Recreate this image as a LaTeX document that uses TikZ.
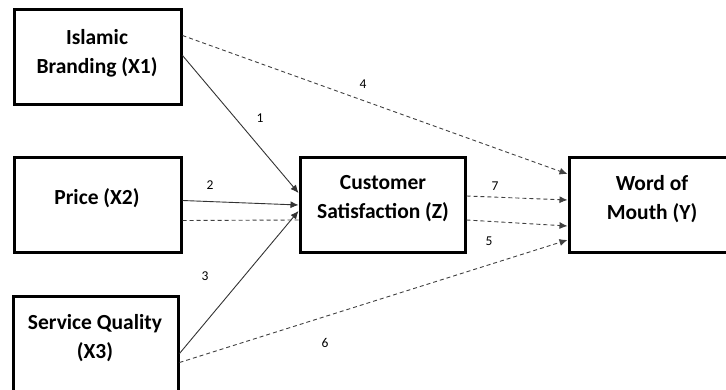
\documentclass[tikz,border=0pt]{standalone}
\usepackage{fontspec}
\setmainfont{Carlito}
\usetikzlibrary{arrows.meta,calc}
\tikzset{
  box/.style={draw=black, line width=3pt, minimum width=#1, minimum height=95pt, inner sep=0pt},
  lbl/.style={font=\fontsize{21.5}{29}\selectfont\bfseries, align=center, inner sep=0pt},
  num/.style={font=\fontsize{13.5}{15}\selectfont, inner sep=0pt},
  solidarr/.style={draw=black!80, line width=0.9pt, -{Latex[length=8pt,width=7pt]}},
  dasharr/.style={draw=black!75, line width=0.9pt, dash pattern=on 4pt off 3pt, -{Latex[length=8pt,width=7pt]}},
  dashln/.style={draw=black!75, line width=0.9pt, dash pattern=on 4pt off 3pt}
}
\begin{document}
\begin{tikzpicture}[x=1pt,y=-1pt]
\useasboundingbox (0,0) rectangle (726,390);
\clip (0,0) rectangle (726,390);
% boxes
\node[box=167pt] (x1) at (97.5,57.5) {};
\node[box=167pt] (x2) at (97.5,205.5) {};
\node[box=165pt, minimum height=96pt] (x3) at (95.5,345) {};
\node[box=165pt] (z) at (382.5,205) {};
\node[box=170pt] (y) at (654,205) {};
% texts
\node[lbl] (x1t) at (97,53) {Islamic\\Branding (X1)};
\node[lbl] (x2t) at (97,198) {Price (X2)};
\node[lbl] (x3t) at (95,338) {Service Quality\\(X3)};
\node[lbl] (zt) at (383,199) {Customer\\Satisfaction (Z)};
\node[lbl] (yt) at (652,199) {Word of\\Mouth (Y)};
% anchor coordinates
\coordinate (x1a) at ($(x1.north east)+(0,27)$);
\coordinate (x1b) at ($(x1.north east)+(0,47)$);
\coordinate (x2a) at ($(x2.north east)+(0,44)$);
\coordinate (x2b) at ($(x2.north east)+(0,64)$);
\coordinate (x3a) at ($(x3.north east)+(0,58)$);
\coordinate (x3b) at ($(x3.north east)+(0,67)$);
\coordinate (z1) at ($(z.north west)+(0,37)$);
\coordinate (z2) at ($(z.north west)+(0,49)$);
\coordinate (z3) at ($(z.north west)+(0,55)$);
\coordinate (z4) at ($(z.north west)+(0,64)$);
\coordinate (zo1) at ($(z.north east)+(0,40)$);
\coordinate (zo2) at ($(z.north east)+(0,64)$);
\coordinate (y4) at ($(y.north west)+(0,18)$);
\coordinate (y7) at ($(y.north west)+(0,44)$);
\coordinate (y5) at ($(y.north west)+(0,70)$);
\coordinate (y6) at ($(y.north west)+(0,84)$);
% connectors
\draw[solidarr] (x1b) -- (z1);
\draw[solidarr] (x2a) -- (z2);
\draw[solidarr] (x3a) -- (z3);
\draw[dashln] (x2b) -- (z4);
\draw[dasharr] (x1a) -- (y4);
\draw[dasharr] (zo1) -- (y7);
\draw[dasharr] (zo2) -- (y5);
\draw[dasharr] (x3b) -- (y6);
% numbers
\node[num] (n1) at (260,118) {1};
\node[num] (n2) at (210,185) {2};
\node[num] (n3) at (205,276) {3};
\node[num] (n4) at (363,84) {4};
\node[num] (n5) at (489,241) {5};
\node[num] (n6) at (325,343) {6};
\node[num] (n7) at (495,186) {7};
\end{tikzpicture}
\end{document}
